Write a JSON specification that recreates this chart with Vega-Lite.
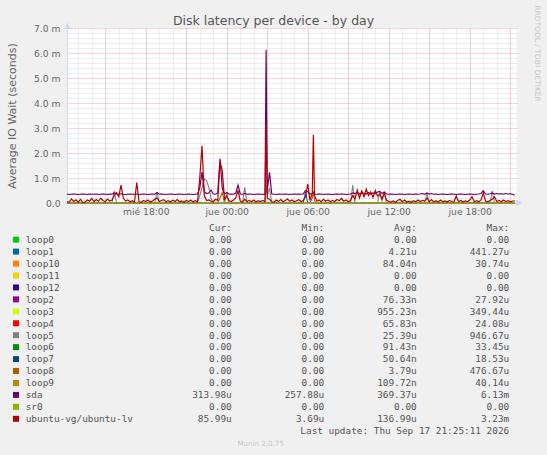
{
  "$schema": "https://vega.github.io/schema/vega-lite/v6.json",
  "width": 450,
  "height": 175,
  "autosize": {"type": "none"},
  "padding": {"left": 67, "top": 28, "right": 30, "bottom": 252},
  "background": "#f0f0f0",
  "config": {
    "view": {"fill": "#ffffff", "stroke": null},
    "font": "DejaVu Sans"
  },
  "title": {
    "text": "Disk latency per device - by day",
    "fontSize": 12.5,
    "fontWeight": "normal",
    "color": "#555555",
    "anchor": "middle",
    "dx": -18.5,
    "offset": -22
  },
  "datasets": {
    "series": [
      {"t": "2026-09-16T12:10", "sda": 0.36, "lv": 0.05, "loop1": 0, "loop5": 0, "loop8": 0, "sr0": 0},
      {"t": "2026-09-16T12:20", "sda": 0.34, "lv": 0.04},
      {"t": "2026-09-16T12:30", "sda": 0.35, "lv": 0.16},
      {"t": "2026-09-16T12:40", "sda": 0.36, "lv": 0.06},
      {"t": "2026-09-16T12:50", "sda": 0.35, "lv": 0.13},
      {"t": "2026-09-16T13:00", "sda": 0.34, "lv": 0.03},
      {"t": "2026-09-16T13:10", "sda": 0.35, "lv": 0.15},
      {"t": "2026-09-16T13:20", "sda": 0.36, "lv": 0.02},
      {"t": "2026-09-16T13:30", "sda": 0.35, "lv": 0.04},
      {"t": "2026-09-16T13:40", "sda": 0.34, "lv": 0.12},
      {"t": "2026-09-16T13:50", "sda": 0.36, "lv": 0.08},
      {"t": "2026-09-16T14:00", "sda": 0.35, "lv": 0.18},
      {"t": "2026-09-16T14:10", "sda": 0.35, "lv": 0.06},
      {"t": "2026-09-16T14:20", "sda": 0.36, "lv": 0.14},
      {"t": "2026-09-16T14:30", "sda": 0.34, "lv": 0.07},
      {"t": "2026-09-16T14:40", "sda": 0.35, "lv": 0.19},
      {"t": "2026-09-16T14:50", "sda": 0.36, "lv": 0.10},
      {"t": "2026-09-16T15:00", "sda": 0.35, "lv": 0.05},
      {"t": "2026-09-16T15:10", "sda": 0.34, "lv": 0.16},
      {"t": "2026-09-16T15:20", "sda": 0.36, "lv": 0.08},
      {"t": "2026-09-16T15:30", "sda": 0.35, "lv": 0.12, "loop5": 0},
      {"t": "2026-09-16T15:40", "sda": 0.40, "lv": 0.30, "loop5": 0.49},
      {"t": "2026-09-16T15:50", "sda": 0.36, "lv": 0.42, "loop5": 0},
      {"t": "2026-09-16T16:00", "sda": 0.35, "lv": 0.25},
      {"t": "2026-09-16T16:10", "sda": 0.37, "lv": 0.72},
      {"t": "2026-09-16T16:20", "sda": 0.35, "lv": 0.20},
      {"t": "2026-09-16T16:30", "sda": 0.34, "lv": 0.08},
      {"t": "2026-09-16T16:40", "sda": 0.35, "lv": 0.12},
      {"t": "2026-09-16T16:50", "sda": 0.36, "lv": 0.05},
      {"t": "2026-09-16T17:00", "sda": 0.35, "lv": 0.09},
      {"t": "2026-09-16T17:10", "sda": 0.35, "lv": 0.04},
      {"t": "2026-09-16T17:20", "sda": 0.36, "lv": 0.82},
      {"t": "2026-09-16T17:30", "sda": 0.34, "lv": 0.05},
      {"t": "2026-09-16T17:40", "sda": 0.35, "lv": 0.03},
      {"t": "2026-09-16T17:50", "sda": 0.36, "lv": 0.10},
      {"t": "2026-09-16T18:00", "sda": 0.35, "lv": 0.06},
      {"t": "2026-09-16T18:10", "sda": 0.34, "lv": 0.12},
      {"t": "2026-09-16T18:20", "sda": 0.35, "lv": 0.04},
      {"t": "2026-09-16T18:30", "sda": 0.36, "lv": 0.08},
      {"t": "2026-09-16T18:40", "sda": 0.35, "lv": 0.15, "loop5": 0},
      {"t": "2026-09-16T18:50", "sda": 0.42, "lv": 0.20, "loop5": 0.44},
      {"t": "2026-09-16T19:00", "sda": 0.35, "lv": 0.06, "loop5": 0},
      {"t": "2026-09-16T19:10", "sda": 0.36, "lv": 0.10},
      {"t": "2026-09-16T19:20", "sda": 0.35, "lv": 0.13},
      {"t": "2026-09-16T19:30", "sda": 0.34, "lv": 0.05},
      {"t": "2026-09-16T19:40", "sda": 0.35, "lv": 0.09},
      {"t": "2026-09-16T19:50", "sda": 0.36, "lv": 0.04},
      {"t": "2026-09-16T20:00", "sda": 0.35, "lv": 0.11},
      {"t": "2026-09-16T20:10", "sda": 0.34, "lv": 0.06},
      {"t": "2026-09-16T20:20", "sda": 0.35, "lv": 0.14},
      {"t": "2026-09-16T20:30", "sda": 0.36, "lv": 0.05},
      {"t": "2026-09-16T20:40", "sda": 0.35, "lv": 0.08},
      {"t": "2026-09-16T20:50", "sda": 0.34, "lv": 0.03},
      {"t": "2026-09-16T21:00", "sda": 0.35, "lv": 0.10},
      {"t": "2026-09-16T21:10", "sda": 0.36, "lv": 0.06},
      {"t": "2026-09-16T21:20", "sda": 0.35, "lv": 0.12},
      {"t": "2026-09-16T21:30", "sda": 0.34, "lv": 0.04},
      {"t": "2026-09-16T21:40", "sda": 0.35, "lv": 0.09},
      {"t": "2026-09-16T21:50", "sda": 0.36, "lv": 0.05, "loop5": 0},
      {"t": "2026-09-16T22:00", "sda": 0.60, "lv": 1.00, "loop5": 0.30},
      {"t": "2026-09-16T22:10", "sda": 1.24, "lv": 2.29, "loop5": 0.60},
      {"t": "2026-09-16T22:20", "sda": 0.45, "lv": 0.30, "loop5": 0.96},
      {"t": "2026-09-16T22:30", "sda": 0.38, "lv": 0.10, "loop5": 0.90},
      {"t": "2026-09-16T22:40", "sda": 0.40, "lv": 0.12, "loop5": 0.63},
      {"t": "2026-09-16T22:50", "sda": 0.52, "lv": 0.08, "loop5": 0.20},
      {"t": "2026-09-16T23:00", "sda": 0.36, "lv": 0.05, "loop5": 0},
      {"t": "2026-09-16T23:10", "sda": 0.35, "lv": 0.15},
      {"t": "2026-09-16T23:20", "sda": 0.40, "lv": 0.10, "loop8": 0},
      {"t": "2026-09-16T23:30", "sda": 1.77, "lv": 1.66, "loop8": 0.20},
      {"t": "2026-09-16T23:40", "sda": 0.60, "lv": 1.30, "loop8": 0.42},
      {"t": "2026-09-16T23:50", "sda": 0.36, "lv": 0.15, "loop8": 0, "loop5": 0},
      {"t": "2026-09-17T00:00", "sda": 0.42, "lv": 0.28, "loop5": 0.38},
      {"t": "2026-09-17T00:10", "sda": 0.35, "lv": 0.10, "loop5": 0},
      {"t": "2026-09-17T00:20", "sda": 0.36, "lv": 0.06},
      {"t": "2026-09-17T00:30", "sda": 0.35, "lv": 0.12},
      {"t": "2026-09-17T00:40", "sda": 0.40, "lv": 0.20},
      {"t": "2026-09-17T00:50", "sda": 0.72, "lv": 0.50},
      {"t": "2026-09-17T01:00", "sda": 0.36, "lv": 0.08},
      {"t": "2026-09-17T01:10", "sda": 0.35, "lv": 0.05, "loop5": 0},
      {"t": "2026-09-17T01:20", "sda": 0.38, "lv": 0.15, "loop5": 0.63},
      {"t": "2026-09-17T01:30", "sda": 0.35, "lv": 0.06, "loop5": 0},
      {"t": "2026-09-17T01:40", "sda": 0.36, "lv": 0.10},
      {"t": "2026-09-17T01:50", "sda": 0.35, "lv": 0.05},
      {"t": "2026-09-17T02:00", "sda": 0.34, "lv": 0.12},
      {"t": "2026-09-17T02:10", "sda": 0.35, "lv": 0.04},
      {"t": "2026-09-17T02:20", "sda": 0.36, "lv": 0.09},
      {"t": "2026-09-17T02:30", "sda": 0.35, "lv": 0.06},
      {"t": "2026-09-17T02:40", "sda": 0.34, "lv": 0.10},
      {"t": "2026-09-17T02:50", "sda": 0.36, "lv": 0.05, "loop5": 0},
      {"t": "2026-09-17T02:55", "sda": 6.13, "lv": 3.23, "loop5": 0.70},
      {"t": "2026-09-17T03:00", "sda": 0.50, "lv": 0.20, "loop5": 0.30},
      {"t": "2026-09-17T03:10", "sda": 1.23, "lv": 0.15, "loop5": 0.60},
      {"t": "2026-09-17T03:20", "sda": 0.36, "lv": 0.05, "loop5": 0},
      {"t": "2026-09-17T03:30", "sda": 0.35, "lv": 0.04},
      {"t": "2026-09-17T03:40", "sda": 0.34, "lv": 0.12},
      {"t": "2026-09-17T03:50", "sda": 0.36, "lv": 0.06},
      {"t": "2026-09-17T04:00", "sda": 0.35, "lv": 0.14},
      {"t": "2026-09-17T04:10", "sda": 0.35, "lv": 0.05},
      {"t": "2026-09-17T04:20", "sda": 0.36, "lv": 0.10},
      {"t": "2026-09-17T04:30", "sda": 0.35, "lv": 0.16},
      {"t": "2026-09-17T04:40", "sda": 0.34, "lv": 0.07},
      {"t": "2026-09-17T04:50", "sda": 0.35, "lv": 0.12},
      {"t": "2026-09-17T05:00", "sda": 0.36, "lv": 0.05},
      {"t": "2026-09-17T05:10", "sda": 0.35, "lv": 0.09},
      {"t": "2026-09-17T05:20", "sda": 0.36, "lv": 0.13},
      {"t": "2026-09-17T05:30", "sda": 0.35, "lv": 0.06},
      {"t": "2026-09-17T05:40", "sda": 0.36, "lv": 0.10, "loop1": 0},
      {"t": "2026-09-17T05:50", "sda": 0.50, "lv": 0.25, "loop1": 0.44},
      {"t": "2026-09-17T06:00", "sda": 0.45, "lv": 0.76, "loop1": 0},
      {"t": "2026-09-17T06:10", "sda": 0.36, "lv": 0.10, "loop8": 0},
      {"t": "2026-09-17T06:20", "sda": 0.38, "lv": 0.40, "loop8": 0.20},
      {"t": "2026-09-17T06:25", "sda": 0.40, "lv": 2.73, "loop8": 0.48},
      {"t": "2026-09-17T06:30", "sda": 0.36, "lv": 0.30, "loop8": 0.10},
      {"t": "2026-09-17T06:40", "sda": 0.35, "lv": 0.08, "loop8": 0},
      {"t": "2026-09-17T06:50", "sda": 0.36, "lv": 0.12},
      {"t": "2026-09-17T07:00", "sda": 0.35, "lv": 0.05},
      {"t": "2026-09-17T07:10", "sda": 0.34, "lv": 0.15},
      {"t": "2026-09-17T07:20", "sda": 0.35, "lv": 0.07},
      {"t": "2026-09-17T07:30", "sda": 0.36, "lv": 0.12},
      {"t": "2026-09-17T07:40", "sda": 0.35, "lv": 0.05},
      {"t": "2026-09-17T07:50", "sda": 0.34, "lv": 0.10},
      {"t": "2026-09-17T08:00", "sda": 0.35, "lv": 0.06},
      {"t": "2026-09-17T08:10", "sda": 0.36, "lv": 0.14},
      {"t": "2026-09-17T08:20", "sda": 0.35, "lv": 0.09},
      {"t": "2026-09-17T08:30", "sda": 0.36, "lv": 0.18},
      {"t": "2026-09-17T08:40", "sda": 0.35, "lv": 0.07},
      {"t": "2026-09-17T08:50", "sda": 0.34, "lv": 0.12},
      {"t": "2026-09-17T09:00", "sda": 0.35, "lv": 0.05},
      {"t": "2026-09-17T09:10", "sda": 0.36, "lv": 0.10, "loop5": 0},
      {"t": "2026-09-17T09:20", "sda": 0.40, "lv": 0.30, "loop5": 0.72},
      {"t": "2026-09-17T09:30", "sda": 0.38, "lv": 0.15, "loop5": 0},
      {"t": "2026-09-17T09:40", "sda": 0.42, "lv": 0.52},
      {"t": "2026-09-17T09:50", "sda": 0.36, "lv": 0.20},
      {"t": "2026-09-17T10:00", "sda": 0.40, "lv": 0.48},
      {"t": "2026-09-17T10:10", "sda": 0.38, "lv": 0.25},
      {"t": "2026-09-17T10:20", "sda": 0.36, "lv": 0.55},
      {"t": "2026-09-17T10:30", "sda": 0.42, "lv": 0.30},
      {"t": "2026-09-17T10:40", "sda": 0.36, "lv": 0.45},
      {"t": "2026-09-17T10:50", "sda": 0.40, "lv": 0.22},
      {"t": "2026-09-17T11:00", "sda": 0.37, "lv": 0.50},
      {"t": "2026-09-17T11:10", "sda": 0.44, "lv": 0.28, "loop5": 0},
      {"t": "2026-09-17T11:20", "sda": 0.46, "lv": 0.35, "loop5": 0.48},
      {"t": "2026-09-17T11:30", "sda": 0.38, "lv": 0.15, "loop5": 0.10},
      {"t": "2026-09-17T11:40", "sda": 0.44, "lv": 0.40, "loop5": 0.42},
      {"t": "2026-09-17T11:50", "sda": 0.36, "lv": 0.12, "loop5": 0},
      {"t": "2026-09-17T12:00", "sda": 0.35, "lv": 0.06},
      {"t": "2026-09-17T12:10", "sda": 0.36, "lv": 0.04},
      {"t": "2026-09-17T12:20", "sda": 0.35, "lv": 0.08},
      {"t": "2026-09-17T12:30", "sda": 0.34, "lv": 0.03},
      {"t": "2026-09-17T12:40", "sda": 0.35, "lv": 0.10},
      {"t": "2026-09-17T12:50", "sda": 0.36, "lv": 0.15},
      {"t": "2026-09-17T13:00", "sda": 0.35, "lv": 0.05},
      {"t": "2026-09-17T13:10", "sda": 0.34, "lv": 0.12},
      {"t": "2026-09-17T13:20", "sda": 0.35, "lv": 0.04},
      {"t": "2026-09-17T13:30", "sda": 0.36, "lv": 0.07},
      {"t": "2026-09-17T13:40", "sda": 0.35, "lv": 0.03},
      {"t": "2026-09-17T13:50", "sda": 0.34, "lv": 0.09},
      {"t": "2026-09-17T14:00", "sda": 0.36, "lv": 0.05},
      {"t": "2026-09-17T14:10", "sda": 0.35, "lv": 0.12},
      {"t": "2026-09-17T14:20", "sda": 0.36, "lv": 0.06},
      {"t": "2026-09-17T14:30", "sda": 0.38, "lv": 0.10},
      {"t": "2026-09-17T14:40", "sda": 0.35, "lv": 0.08, "loop5": 0},
      {"t": "2026-09-17T14:50", "sda": 0.40, "lv": 0.20, "loop5": 0.39},
      {"t": "2026-09-17T15:00", "sda": 0.36, "lv": 0.05, "loop5": 0},
      {"t": "2026-09-17T15:10", "sda": 0.38, "lv": 0.14},
      {"t": "2026-09-17T15:20", "sda": 0.35, "lv": 0.04},
      {"t": "2026-09-17T15:30", "sda": 0.36, "lv": 0.09},
      {"t": "2026-09-17T15:40", "sda": 0.34, "lv": 0.03},
      {"t": "2026-09-17T15:50", "sda": 0.35, "lv": 0.12},
      {"t": "2026-09-17T16:00", "sda": 0.36, "lv": 0.05},
      {"t": "2026-09-17T16:10", "sda": 0.35, "lv": 0.08},
      {"t": "2026-09-17T16:20", "sda": 0.34, "lv": 0.04},
      {"t": "2026-09-17T16:30", "sda": 0.35, "lv": 0.10},
      {"t": "2026-09-17T16:40", "sda": 0.36, "lv": 0.06},
      {"t": "2026-09-17T16:50", "sda": 0.35, "lv": 0.05},
      {"t": "2026-09-17T17:00", "sda": 0.34, "lv": 0.28},
      {"t": "2026-09-17T17:10", "sda": 0.35, "lv": 0.05},
      {"t": "2026-09-17T17:20", "sda": 0.36, "lv": 0.10},
      {"t": "2026-09-17T17:30", "sda": 0.35, "lv": 0.04},
      {"t": "2026-09-17T17:40", "sda": 0.34, "lv": 0.08},
      {"t": "2026-09-17T17:50", "sda": 0.35, "lv": 0.05},
      {"t": "2026-09-17T18:00", "sda": 0.36, "lv": 0.12},
      {"t": "2026-09-17T18:10", "sda": 0.35, "lv": 0.25},
      {"t": "2026-09-17T18:20", "sda": 0.34, "lv": 0.05},
      {"t": "2026-09-17T18:30", "sda": 0.35, "lv": 0.09},
      {"t": "2026-09-17T18:40", "sda": 0.36, "lv": 0.04},
      {"t": "2026-09-17T18:50", "sda": 0.38, "lv": 0.12},
      {"t": "2026-09-17T19:00", "sda": 0.49, "lv": 0.40},
      {"t": "2026-09-17T19:10", "sda": 0.36, "lv": 0.08},
      {"t": "2026-09-17T19:20", "sda": 0.35, "lv": 0.05},
      {"t": "2026-09-17T19:30", "sda": 0.37, "lv": 0.10, "loop5": 0},
      {"t": "2026-09-17T19:40", "sda": 0.40, "lv": 0.15, "loop5": 0.49},
      {"t": "2026-09-17T19:50", "sda": 0.36, "lv": 0.25, "loop5": 0},
      {"t": "2026-09-17T20:00", "sda": 0.38, "lv": 0.06},
      {"t": "2026-09-17T20:10", "sda": 0.36, "lv": 0.10},
      {"t": "2026-09-17T20:20", "sda": 0.37, "lv": 0.05},
      {"t": "2026-09-17T20:30", "sda": 0.35, "lv": 0.12},
      {"t": "2026-09-17T20:40", "sda": 0.38, "lv": 0.06},
      {"t": "2026-09-17T20:50", "sda": 0.36, "lv": 0.09},
      {"t": "2026-09-17T21:00", "sda": 0.37, "lv": 0.05},
      {"t": "2026-09-17T21:10", "sda": 0.35, "lv": 0.08},
      {"t": "2026-09-17T21:20", "sda": 0.31, "lv": 0.086, "loop1": 0, "loop5": 0, "loop8": 0, "sr0": 0}
    ],
    "legend": [
      {"id": "header", "cur": "Cur:\u00a0\u00a0", "min": "Min:\u00a0\u00a0", "avg": "Avg:\u00a0\u00a0", "max": "Max:\u00a0\u00a0"},
      {"id": "loop0", "name": "loop0", "cur": "0.00\u00a0", "min": "0.00\u00a0", "avg": "0.00\u00a0", "max": "0.00\u00a0"},
      {"id": "loop1", "name": "loop1", "cur": "0.00\u00a0", "min": "0.00\u00a0", "avg": "4.21u", "max": "441.27u"},
      {"id": "loop10", "name": "loop10", "cur": "0.00\u00a0", "min": "0.00\u00a0", "avg": "84.04n", "max": "30.74u"},
      {"id": "loop11", "name": "loop11", "cur": "0.00\u00a0", "min": "0.00\u00a0", "avg": "0.00\u00a0", "max": "0.00\u00a0"},
      {"id": "loop12", "name": "loop12", "cur": "0.00\u00a0", "min": "0.00\u00a0", "avg": "0.00\u00a0", "max": "0.00\u00a0"},
      {"id": "loop2", "name": "loop2", "cur": "0.00\u00a0", "min": "0.00\u00a0", "avg": "76.33n", "max": "27.92u"},
      {"id": "loop3", "name": "loop3", "cur": "0.00\u00a0", "min": "0.00\u00a0", "avg": "955.23n", "max": "349.44u"},
      {"id": "loop4", "name": "loop4", "cur": "0.00\u00a0", "min": "0.00\u00a0", "avg": "65.83n", "max": "24.08u"},
      {"id": "loop5", "name": "loop5", "cur": "0.00\u00a0", "min": "0.00\u00a0", "avg": "25.39u", "max": "946.67u"},
      {"id": "loop6", "name": "loop6", "cur": "0.00\u00a0", "min": "0.00\u00a0", "avg": "91.43n", "max": "33.45u"},
      {"id": "loop7", "name": "loop7", "cur": "0.00\u00a0", "min": "0.00\u00a0", "avg": "50.64n", "max": "18.53u"},
      {"id": "loop8", "name": "loop8", "cur": "0.00\u00a0", "min": "0.00\u00a0", "avg": "3.79u", "max": "476.67u"},
      {"id": "loop9", "name": "loop9", "cur": "0.00\u00a0", "min": "0.00\u00a0", "avg": "109.72n", "max": "40.14u"},
      {"id": "sda", "name": "sda", "cur": "313.98u", "min": "257.88u", "avg": "369.37u", "max": "6.13m"},
      {"id": "sr0", "name": "sr0", "cur": "0.00\u00a0", "min": "0.00\u00a0", "avg": "0.00\u00a0", "max": "0.00\u00a0"},
      {"id": "ubuntu-vg/ubuntu-lv", "name": "ubuntu-vg/ubuntu-lv", "cur": "85.99u", "min": "3.69u", "avg": "136.99u", "max": "3.23m"},
      {"id": "update", "max": "Last update: Thu Sep 17 21:25:11 2026"},
      {"id": "munin", "note": "Munin 2.0.75"}
    ]
  },
  "layer": [
    {
      "data": {"name": "series"},
      "layer": [
        {
          "transform": [{"filter": "isValid(datum.loop1)"}],
          "mark": {"type": "line", "color": "#0066B3", "strokeWidth": 1.1},
          "encoding": {
            "x": {
              "field": "t", "type": "temporal",
              "scale": {"domain": [{"year": 2026, "month": 9, "date": 16, "hours": 12, "minutes": 10}, {"year": 2026, "month": 9, "date": 17, "hours": 21, "minutes": 30}]},
              "axis": {"orient": "bottom", "tickCount": 33, "grid": true, "gridColor": "#dadada", "gridDash": [1, 1], "labels": false, "ticks": false, "domain": false, "title": null}
            },
            "y": {
              "field": "loop1", "type": "quantitative",
              "scale": {"domain": [0, 7], "nice": false},
              "axis": {"orient": "right", "values": [0.2, 0.4, 0.6, 0.8, 1.2, 1.4, 1.6, 1.8, 2.2, 2.4, 2.6, 2.8, 3.2, 3.4, 3.6, 3.8, 4.2, 4.4, 4.6, 4.8, 5.2, 5.4, 5.6, 5.8, 6.2, 6.4, 6.6, 6.8], "grid": true, "gridColor": "#dadada", "gridDash": [1, 1], "labels": false, "ticks": false, "domain": false, "title": null}
            }
          }
        },
        {
          "transform": [{"filter": "isValid(datum.loop5)"}],
          "mark": {"type": "line", "color": "#808080", "strokeWidth": 1.1},
          "encoding": {
            "x": {
              "field": "t", "type": "temporal",
              "axis": {"orient": "top", "tickCount": 11, "grid": true, "gridColor": "#f3aaaa", "gridDash": [1, 1], "labels": false, "ticks": false, "domain": false, "title": null}
            },
            "y": {
              "field": "loop5", "type": "quantitative",
              "axis": {"orient": "right", "values": [1, 2, 3, 4, 5, 6, 7], "grid": true, "gridColor": "#f3aaaa", "gridDash": [1, 1], "labels": false, "ticks": false, "domain": false, "title": null}
            }
          }
        },
        {
          "transform": [{"filter": "isValid(datum.loop8)"}],
          "mark": {"type": "line", "color": "#B35A00", "strokeWidth": 1.1},
          "encoding": {
            "x": {
              "field": "t", "type": "temporal",
              "axis": {"orient": "bottom", "tickCount": 6, "format": "%H:%M", "labelExpr": "(day(datum.value) == 3 ? 'mié ' : 'jue ') + datum.label", "grid": false, "ticks": false, "domainColor": "#CFD6F8", "labelFontSize": 9.2, "labelColor": "#666666", "labelPadding": 4, "labelFlush": false, "labelOverlap": false, "title": null}
            },
            "y": {
              "field": "loop8", "type": "quantitative",
              "axis": {"orient": "left", "values": [0, 1, 2, 3, 4, 5, 6, 7], "format": ".1f", "labelExpr": "datum.value == 0 ? '0.0' : datum.label + ' m'", "grid": false, "ticks": false, "domainColor": "#CFD6F8", "labelFontSize": 9.2, "labelColor": "#666666", "labelPadding": 7, "labelOverlap": false, "title": "Average IO Wait (seconds)", "titleFontSize": 11, "titleFontWeight": "normal", "titleColor": "#666666", "titlePadding": 16}
            }
          }
        },
        {
          "mark": {"type": "line", "color": "#6B006B", "strokeWidth": 1.2},
          "encoding": {
            "x": {"field": "t", "type": "temporal", "axis": null},
            "y": {"field": "sda", "type": "quantitative", "axis": null}
          }
        },
        {
          "transform": [{"filter": "isValid(datum.sr0)"}],
          "mark": {"type": "line", "color": "#8FB300", "strokeWidth": 1.1},
          "encoding": {
            "x": {"field": "t", "type": "temporal", "axis": null},
            "y": {"field": "sr0", "type": "quantitative", "axis": null}
          }
        },
        {
          "mark": {"type": "line", "color": "#B30000", "strokeWidth": 1.2},
          "encoding": {
            "x": {"field": "t", "type": "temporal", "axis": null},
            "y": {"field": "lv", "type": "quantitative", "axis": null}
          }
        },
        {
          "data": {"values": [{"arrow": "▲"}]},
          "mark": {"type": "text", "align": "center", "baseline": "bottom", "fontSize": 8, "color": "#CFD6F8", "dy": 2},
          "encoding": {
            "x": {"datum": {"year": 2026, "month": 9, "date": 16, "hours": 12, "minutes": 10}, "type": "temporal", "axis": null},
            "y": {"datum": 7, "type": "quantitative", "axis": null},
            "text": {"field": "arrow"}
          }
        },
        {
          "data": {"values": [{"arrow": "▶"}]},
          "mark": {"type": "text", "align": "left", "baseline": "middle", "fontSize": 8, "color": "#CFD6F8", "dx": -1},
          "encoding": {
            "x": {"datum": {"year": 2026, "month": 9, "date": 17, "hours": 21, "minutes": 30}, "type": "temporal", "axis": null},
            "y": {"datum": 0, "type": "quantitative", "axis": null},
            "text": {"field": "arrow"}
          }
        },
        {
          "data": {"values": [{"mark": "RRDTOOL / TOBI OETIKER"}]},
          "mark": {"type": "text", "angle": 90, "align": "center", "baseline": "middle", "fontSize": 7.5, "color": "#c8c8c8", "dx": 25.5, "dy": -20},
          "encoding": {
            "x": {"datum": {"year": 2026, "month": 9, "date": 17, "hours": 21, "minutes": 30}, "type": "temporal", "axis": null},
            "y": {"datum": 7, "type": "quantitative", "axis": null},
            "text": {"field": "mark"}
          }
        }
      ],
      "resolve": {"axis": {"x": "independent", "y": "independent"}}
    },
    {
      "data": {"name": "legend"},
      "layer": [
        {
          "transform": [
            {"fold": ["cur", "min", "avg", "max"], "as": ["col", "txt"]},
            {"filter": "isValid(datum.txt)"}
          ],
          "mark": {"type": "text", "align": "right", "baseline": "alphabetic", "font": "DejaVu Sans Mono", "fontSize": 9.4, "color": "#555555"},
          "encoding": {
            "x": {"field": "col", "type": "nominal", "scale": {"type": "point", "domain": ["cur", "min", "avg", "max"], "range": [164.7, 442.2], "padding": 0}, "axis": null},
            "y": {"field": "id", "type": "nominal", "scale": {"type": "point", "domain": ["header", "loop0", "loop1", "loop10", "loop11", "loop12", "loop2", "loop3", "loop4", "loop5", "loop6", "loop7", "loop8", "loop9", "sda", "sr0", "ubuntu-vg/ubuntu-lv", "update", "munin"], "range": [203, 418], "padding": 0}, "axis": null},
            "text": {"field": "txt"}
          }
        },
        {
          "transform": [{"filter": "isValid(datum.name)"}],
          "mark": {"type": "text", "align": "left", "baseline": "alphabetic", "font": "DejaVu Sans Mono", "fontSize": 9.4, "color": "#555555", "dx": -206},
          "encoding": {
            "x": {"datum": "cur", "type": "nominal", "axis": null},
            "y": {"field": "id", "type": "nominal", "axis": null},
            "text": {"field": "name"}
          }
        },
        {
          "transform": [{"filter": "isValid(datum.name)"}],
          "mark": {"type": "point", "shape": "square", "filled": true, "size": 36, "opacity": 1, "strokeWidth": 0, "xOffset": -215.7, "yOffset": -3.3},
          "encoding": {
            "x": {"datum": "cur", "type": "nominal", "axis": null},
            "y": {"field": "id", "type": "nominal", "axis": null},
            "color": {
              "field": "id", "type": "nominal", "legend": null,
              "scale": {
                "domain": ["loop0", "loop1", "loop10", "loop11", "loop12", "loop2", "loop3", "loop4", "loop5", "loop6", "loop7", "loop8", "loop9", "sda", "sr0", "ubuntu-vg/ubuntu-lv"],
                "range": ["#00CC00", "#0066B3", "#FF8000", "#FFCC00", "#330099", "#990099", "#CCFF00", "#FF0000", "#808080", "#008F00", "#00487D", "#B35A00", "#B38F00", "#6B006B", "#8FB300", "#B30000"]
              }
            }
          }
        },
        {
          "transform": [{"filter": "isValid(datum.note)"}],
          "mark": {"type": "text", "align": "center", "baseline": "alphabetic", "fontSize": 7.1, "color": "#c8c8c8", "dx": 29},
          "encoding": {
            "x": {"datum": "cur", "type": "nominal", "axis": null},
            "y": {"field": "id", "type": "nominal", "axis": null},
            "text": {"field": "note"}
          }
        }
      ]
    }
  ],
  "resolve": {"scale": {"x": "independent", "y": "independent", "color": "independent"}}
}
